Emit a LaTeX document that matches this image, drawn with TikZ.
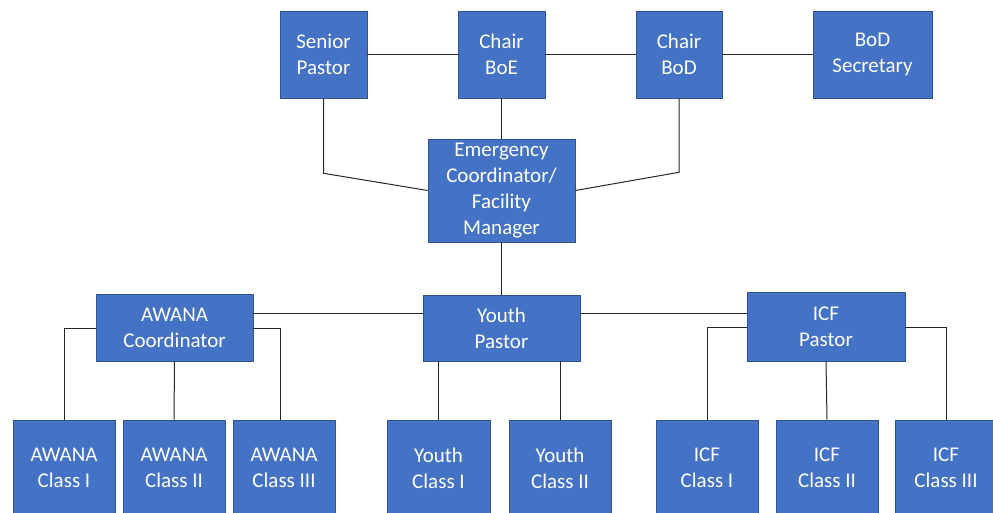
\documentclass[tikz,border=0pt]{standalone}
\usepackage{fontspec}
\setmainfont{Carlito}
\definecolor{boxblue}{HTML}{4472C4}
\definecolor{boxedge}{HTML}{2F528F}
\definecolor{linegray}{HTML}{262626}
\begin{document}
\begin{tikzpicture}[x=1pt,y=-1pt,
  box/.style={fill=boxblue,draw=boxedge,line width=0.6pt,text=white,align=center,
    inner sep=0pt,font=\fontsize{21}{26}\selectfont},
  conn/.style={draw=linegray,line width=1pt}]
\useasboundingbox (0,0) rectangle (993,512);
\clip (0,0) rectangle (993,512);
% top row
\node[box,minimum width=87pt,minimum height=87pt] (sp) at (323.5,54.5) {Senior\\Pastor};
\node[box,minimum width=87pt,minimum height=87pt] (boe) at (501.5,54.5) {Chair\\BoE};
\node[box,minimum width=86pt,minimum height=87pt] (bodc) at (679,54.5) {Chair\\BoD};
\node[box,minimum width=119pt,minimum height=87pt] (sec) at (872.5,54.5) {BoD\\Secretary};
% emergency coordinator
\node[box,minimum width=147pt,minimum height=103pt] (ec) at (501.5,190.5) {Emergency\\Coordinator/\\Facility\\Manager};
% middle row
\node[box,minimum width=157pt,minimum height=67pt] (awc) at (174.5,327.5) {AWANA\\Coordinator};
\node[box,minimum width=157pt,minimum height=66pt] (yp) at (501.5,328) {Youth\\Pastor};
\node[box,minimum width=158pt,minimum height=69pt] (icf) at (826,326.5) {ICF\\Pastor};
% bottom row
\node[box,minimum width=102pt,minimum height=96pt] (a1) at (64,468) {AWANA\\Class I};
\node[box,minimum width=102pt,minimum height=96pt] (a2) at (174,468) {AWANA\\Class II};
\node[box,minimum width=102pt,minimum height=96pt] (a3) at (284,468) {AWANA\\Class III};
\node[box,minimum width=103pt,minimum height=96pt] (y1) at (438.5,468) {Youth\\Class I};
\node[box,minimum width=102pt,minimum height=96pt] (y2) at (560,468) {Youth\\Class II};
\node[box,minimum width=102pt,minimum height=96pt] (i1) at (707,468) {ICF\\Class I};
\node[box,minimum width=102pt,minimum height=96pt] (i2) at (827,468) {ICF\\Class II};
\node[box,minimum width=102pt,minimum height=96pt] (i3) at (946,468) {ICF\\Class III};
% connectors top
\draw[conn] (sp.east) -- (boe.west);
\draw[conn] (boe.east) -- (bodc.west);
\draw[conn] (bodc.east) -- (sec.west);
\draw[conn] (sp.south) -- ++(0,75) -- (ec.west);
\draw[conn] (bodc.south) -- ++(0,74) -- (ec.east);
\draw[conn] (boe.south) -- (ec.north);
\draw[conn] (ec.south) -- (yp.north);
% middle
\draw[conn] (awc.east |- 0,313) -- (yp.west |- 0,313);
\draw[conn] (yp.east |- 0,313) -- (icf.west |- 0,313);
% awana
\draw[conn] (awc.west |- 0,328) -| (a1.north);
\draw[conn] (awc.south) -- (a2.north);
\draw[conn] (awc.east |- 0,328) -| ([xshift=-4pt]a3.north);
% youth
\draw[conn] (y1.north |- yp.south) -- (y1.north);
\draw[conn] (y2.north |- yp.south) -- (y2.north);
% icf
\draw[conn] (icf.west |- 0,327) -| (i1.north);
\draw[conn] (icf.south) -- (i2.north);
\draw[conn] (icf.east |- 0,327) -| (i3.north);
\end{tikzpicture}
\end{document}
